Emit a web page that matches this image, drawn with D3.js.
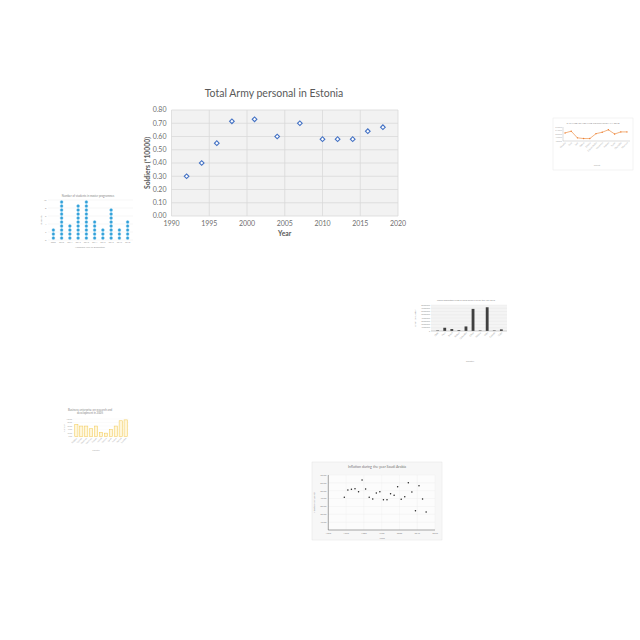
<!DOCTYPE html>
<html>
<head>
<meta charset="utf-8">
<script src="https://cdn.jsdelivr.net/npm/d3@7"></script>
<style>
  html, body { margin: 0; padding: 0; background: #fff; }
  svg { display: block; }
  text { font-family: Lato, "Open Sans", sans-serif; }
</style>
</head>
<body>
<div id="chart"></div>
<script>
// --- Main chart data ---
const armyYears = [1992, 1994, 1996, 1998, 2001, 2004, 2007, 2010, 2012, 2014, 2016, 2018];
const armySoldiers = [0.30, 0.40, 0.55, 0.715, 0.73, 0.60, 0.70, 0.58, 0.58, 0.58, 0.64, 0.67];
const armyXTicks = [1990, 1995, 2000, 2005, 2010, 2015, 2020];
const armyYTicks = [0, 0.1, 0.2, 0.3, 0.4, 0.5, 0.6, 0.7, 0.8];

// --- Thumbnail data ---
const dotLabels = ['2009', '2010', '2011', '2012', '2013', '2014', '2015', '2016', '2017', '2018'];
const dotCounts = [3, 10, 4, 9, 10, 5, 3, 8, 3, 5];
const dotYTicks = [0, 2, 4, 6, 8, 10];

const femaleLabels = ['Kharkiv', 'Kyiv', 'Lviv', 'Odesa', 'Dnipro', 'Zaporizhzhia', 'Vinnytsia', 'Poltava', 'Sumy', 'Chernihiv', 'Kherson'];
const femaleShare = [50.3, 50.8, 48.9, 48.7, 48.7, 50.1, 50.5, 51.2, 50.0, 50.6, 50.6];

const urbanCountries = ['Chile', 'Peru', 'Brazil', 'Bolivia', 'Colombia', 'China', 'Mexico', 'India', 'Canada', 'Cuba'];
const urbanValues = [1.5, 10, 6, 2.5, 14, 68, 1.5, 73, 1.5, 5];
const urbanYTicks = [0, 10, 20, 30, 40, 50, 60, 70, 80];

const rndCountries = ['Belgium', 'Czechia', 'Denmark', 'Germany', 'Estonia', 'Ireland', 'Greece', 'Spain', 'France', 'Finland', 'Sweden'];
const rndValues = [70, 60, 60, 45, 60, 25, 20, 40, 60, 90, 95];
const rndYTicks = [0, 20, 40, 60, 80, 100];

const inflYears = [1969, 1971, 1973, 1975, 1977, 1979, 1981, 1983, 1985, 1987, 1989, 1991, 1993, 1995, 1997, 1999, 2001, 2003, 2005, 2007, 2009, 2011, 2013, 2015];
const inflValues = [41.6, 50.9, 51.8, 52.6, 48.8, 63.6, 52.2, 41.6, 39.5, 47.1, 48.8, 38.6, 38.6, 46.2, 44.1, 55.2, 39.0, 42.4, 60.2, 48.4, 24.6, 56.4, 39.5, 22.9];
const inflXTicks = [1960, 1970, 1980, 1990, 2000, 2010, 2020];
const inflYTicks = [0, 10, 20, 30, 40, 50, 60, 70];

const svg = d3.select('#chart').append('svg')
  .attr('width', 640).attr('height', 640);
svg.append('rect').attr('width', 640).attr('height', 640).attr('fill', '#fff');

// ============================================================
// Main scatter: Total Army personal in Estonia
// ============================================================
(function () {
  const x = d3.scaleLinear().domain([1990, 2020]).range([171.5, 398]);
  const y = d3.scaleLinear().domain([0, 0.8]).range([216, 110]);
  const g = svg.append('g');

  g.append('rect')
    .attr('x', x(1990)).attr('y', y(0.8))
    .attr('width', x(2020) - x(1990)).attr('height', y(0) - y(0.8))
    .attr('fill', '#f2f2f2');

  g.selectAll('line.hgrid').data(armyYTicks).join('line')
    .attr('x1', x(1990)).attr('x2', x(2020))
    .attr('y1', d => y(d)).attr('y2', d => y(d))
    .attr('stroke', '#d9d9d9').attr('stroke-width', 0.8);
  g.selectAll('line.vgrid').data(armyXTicks).join('line')
    .attr('y1', y(0)).attr('y2', y(0.8))
    .attr('x1', d => x(d)).attr('x2', d => x(d))
    .attr('stroke', '#d9d9d9').attr('stroke-width', 0.8);

  g.selectAll('text.yt').data(armyYTicks).join('text')
    .attr('x', x(1990) - 5).attr('y', d => y(d) + 2.4)
    .attr('text-anchor', 'end').attr('font-size', 7).attr('fill', '#6f6f6f')
    .text(d3.format('.2f'));
  g.selectAll('text.xt').data(armyXTicks).join('text')
    .attr('x', d => x(d)).attr('y', y(0) + 10)
    .attr('text-anchor', 'middle').attr('font-size', 7).attr('fill', '#6f6f6f')
    .text(d => d);

  g.append('text')
    .attr('x', 274).attr('y', 97)
    .attr('text-anchor', 'middle').attr('font-size', 10.5).attr('fill', '#595959')
    .text('Total Army personal in Estonia');
  g.append('text')
    .attr('transform', `translate(150,${(y(0) + y(0.8)) / 2}) rotate(-90)`)
    .attr('text-anchor', 'middle').attr('font-size', 6.8).attr('font-weight', 'bold')
    .attr('fill', '#595959')
    .text('Soldiers (*10000)');
  g.append('text')
    .attr('x', (x(1990) + x(2020)) / 2).attr('y', 236)
    .attr('text-anchor', 'middle').attr('font-size', 6.8).attr('font-weight', 'bold')
    .attr('fill', '#595959')
    .text('Year');

  const diamond = d3.symbol(d3.symbolSquare, 11);
  g.selectAll('path.pt').data(armyYears).join('path')
    .attr('d', diamond)
    .attr('transform', (d, i) => `translate(${x(d)},${y(armySoldiers[i])}) rotate(45)`)
    .attr('fill', '#fff').attr('stroke', '#4472c4').attr('stroke-width', 1.1);
})();

// ============================================================
// Thumbnail: stacked dot columns (blue)
// ============================================================
(function () {
  const x = d3.scaleBand().domain(dotLabels).range([48, 133]).padding(0.3);
  const y = d3.scaleLinear().domain([0, 10]).range([240, 200]);
  const g = svg.append('g');

  g.selectAll('line.grid').data(dotYTicks).join('line')
    .attr('x1', 48).attr('x2', 133)
    .attr('y1', d => y(d)).attr('y2', d => y(d))
    .attr('stroke', '#ececec').attr('stroke-width', 0.4);
  g.selectAll('text.yt').data(dotYTicks).join('text')
    .attr('x', 46.5).attr('y', d => y(d) + 0.8)
    .attr('text-anchor', 'end').attr('font-size', 2.4).attr('fill', '#999')
    .text(d => d);
  g.selectAll('text.xt').data(dotLabels).join('text')
    .attr('x', d => x(d) + x.bandwidth() / 2).attr('y', 243)
    .attr('text-anchor', 'middle').attr('font-size', 2.2).attr('fill', '#999')
    .text(d => d);

  const dots = [];
  dotLabels.forEach((lab, i) => {
    for (let k = 1; k <= dotCounts[i]; k++) dots.push({ lab, k });
  });
  g.selectAll('circle').data(dots).join('circle')
    .attr('cx', d => x(d.lab) + x.bandwidth() / 2)
    .attr('cy', d => y(d.k - 0.5))
    .attr('r', 1.5)
    .attr('fill', '#2f9fd8').attr('stroke', '#7cc7ee').attr('stroke-width', 0.35);

  g.append('text').attr('x', 88).attr('y', 197)
    .attr('text-anchor', 'middle').attr('font-size', 2.8).attr('fill', '#888')
    .text('Number of students in master programmes');
  g.append('text').attr('x', 90).attr('y', 247.5)
    .attr('text-anchor', 'middle').attr('font-size', 2.4).attr('fill', '#999')
    .text('Academic year of graduation');
  g.append('text').attr('transform', 'translate(41.5,220) rotate(-90)')
    .attr('text-anchor', 'middle').attr('font-size', 2.4).attr('fill', '#999')
    .text('Students');
})();

// ============================================================
// Thumbnail: orange line
// ============================================================
(function () {
  const x = d3.scalePoint().domain(femaleLabels).range([565, 627]);
  const y = d3.scaleLinear().domain([48, 52]).range([141, 127]);
  const g = svg.append('g');

  g.append('rect').attr('x', 553).attr('y', 118).attr('width', 80).attr('height', 52)
    .attr('fill', 'none').attr('stroke', '#ececec').attr('stroke-width', 0.6);
  g.append('line').attr('x1', 563).attr('x2', 563).attr('y1', 127).attr('y2', 141)
    .attr('stroke', '#bbb').attr('stroke-width', 0.5);
  g.append('line').attr('x1', 563).attr('x2', 630).attr('y1', 141).attr('y2', 141)
    .attr('stroke', '#bbb').attr('stroke-width', 0.5);
  g.selectAll('text.yt').data([48, 49, 50, 51, 52]).join('text')
    .attr('x', 562).attr('y', d => y(d) + 0.7)
    .attr('text-anchor', 'end').attr('font-size', 2).attr('fill', '#aaa')
    .text(d => d.toFixed(2) + '%');
  g.selectAll('text.xt').data(femaleLabels).join('text')
    .attr('transform', d => `translate(${x(d) + 1},${143}) rotate(-45)`)
    .attr('text-anchor', 'end').attr('font-size', 2.2).attr('fill', '#aaa')
    .text(d => d);

  g.append('path').datum(femaleShare)
    .attr('d', d3.line().x((d, i) => x(femaleLabels[i])).y(d => y(d)))
    .attr('fill', 'none').attr('stroke', '#f0a060').attr('stroke-width', 0.8);
  g.selectAll('circle').data(femaleShare).join('circle')
    .attr('cx', (d, i) => x(femaleLabels[i])).attr('cy', d => y(d)).attr('r', 0.7)
    .attr('fill', '#ed7d31');

  g.append('text').attr('x', 593).attr('y', 123.5)
    .attr('text-anchor', 'middle').attr('font-size', 2.6).attr('fill', '#888')
    .text('% SHARE OF FEMALE POPULATION IN 2018');
  g.append('text').attr('x', 597).attr('y', 165.5)
    .attr('text-anchor', 'middle').attr('font-size', 2.2).attr('fill', '#aaa')
    .text('Oblast');
})();

// ============================================================
// Thumbnail: gray bars
// ============================================================
(function () {
  const x = d3.scaleBand().domain(urbanCountries).range([432, 507]).padding(0.6);
  const y = d3.scaleLinear().domain([0, 80]).range([331, 305]);
  const g = svg.append('g');

  g.append('rect').attr('x', 431).attr('y', 305).attr('width', 76).attr('height', 26)
    .attr('fill', '#f4f4f4');
  g.selectAll('line.grid').data(urbanYTicks).join('line')
    .attr('x1', 431).attr('x2', 507)
    .attr('y1', d => y(d)).attr('y2', d => y(d))
    .attr('stroke', '#e0e0e0').attr('stroke-width', 0.3);
  g.selectAll('text.yt').data(urbanYTicks).join('text')
    .attr('x', 430).attr('y', d => y(d) + 0.6)
    .attr('text-anchor', 'end').attr('font-size', 1.9).attr('fill', '#999')
    .text(d => d * 1000000);
  g.selectAll('rect.bar').data(urbanValues).join('rect')
    .attr('x', (d, i) => x(urbanCountries[i])).attr('y', d => y(d))
    .attr('width', x.bandwidth()).attr('height', d => y(0) - y(d))
    .attr('fill', '#404040');
  g.append('line').attr('x1', 431).attr('x2', 507).attr('y1', 331).attr('y2', 331)
    .attr('stroke', '#999').attr('stroke-width', 0.4);
  g.selectAll('text.xt').data(urbanCountries).join('text')
    .attr('transform', d => `translate(${x(d) + x.bandwidth() / 2 + 1},${333}) rotate(-45)`)
    .attr('text-anchor', 'end').attr('font-size', 2.2).attr('fill', '#999')
    .text(d => d);

  g.append('text').attr('x', 466).attr('y', 300.5)
    .attr('text-anchor', 'middle').attr('font-size', 2.2).attr('fill', '#888')
    .text('Urban population living in areas below 5 m for the Year 2010');
  g.append('text').attr('x', 470).attr('y', 361.5)
    .attr('text-anchor', 'middle').attr('font-size', 2.3).attr('fill', '#999')
    .text('Country');
  g.append('text').attr('transform', 'translate(416,318) rotate(-90)')
    .attr('text-anchor', 'middle').attr('font-size', 2.3).attr('fill', '#999')
    .text('Urban population');
})();

// ============================================================
// Thumbnail: yellow bars
// ============================================================
(function () {
  const x = d3.scaleBand().domain(rndCountries).range([73, 129]).padding(0.35);
  const y = d3.scaleLinear().domain([0, 100]).range([436.7, 419]);
  const g = svg.append('g');

  g.selectAll('line.grid').data(rndYTicks).join('line')
    .attr('x1', 73).attr('x2', 129)
    .attr('y1', d => y(d)).attr('y2', d => y(d))
    .attr('stroke', '#f0f0f0').attr('stroke-width', 0.3);
  g.selectAll('text.yt').data(rndYTicks).join('text')
    .attr('x', 72).attr('y', d => y(d) + 0.6)
    .attr('text-anchor', 'end').attr('font-size', 1.8).attr('fill', '#aaa')
    .text(d => d.toFixed(2));
  g.selectAll('rect.bar').data(rndValues).join('rect')
    .attr('x', (d, i) => x(rndCountries[i])).attr('y', d => y(d))
    .attr('width', x.bandwidth()).attr('height', d => y(0) - y(d))
    .attr('fill', '#fff6d9').attr('stroke', '#f2cd5c').attr('stroke-width', 0.55);
  g.selectAll('text.xt').data(rndCountries).join('text')
    .attr('transform', d => `translate(${x(d) + x.bandwidth() / 2 + 1},${438.5}) rotate(-45)`)
    .attr('text-anchor', 'end').attr('font-size', 2).attr('fill', '#aaa')
    .text(d => d);

  g.append('text').attr('x', 90).attr('y', 410.5)
    .attr('text-anchor', 'middle').attr('font-size', 2.8).attr('fill', '#888')
    .text('Business enterprise on research and');
  g.append('text').attr('x', 90).attr('y', 414)
    .attr('text-anchor', 'middle').attr('font-size', 2.8).attr('fill', '#888')
    .text('development in 2005');
  g.append('text').attr('x', 96).attr('y', 450.5)
    .attr('text-anchor', 'middle').attr('font-size', 2.1).attr('fill', '#aaa')
    .text('Country');
  g.append('text').attr('transform', 'translate(64.5,428) rotate(-90)')
    .attr('text-anchor', 'middle').attr('font-size', 1.9).attr('fill', '#aaa')
    .text('% of GDP');
})();

// ============================================================
// Thumbnail: inflation scatter
// ============================================================
(function () {
  const x = d3.scaleLinear().domain([1960, 2020]).range([328.3, 435]);
  const y = d3.scaleLinear().domain([0, 70]).range([530, 475]);
  const g = svg.append('g');

  g.append('rect').attr('x', 312).attr('y', 462).attr('width', 130).attr('height', 78)
    .attr('fill', '#f7f7f7').attr('stroke', '#e4e4e4').attr('stroke-width', 0.5);
  g.append('rect').attr('x', x(1960)).attr('y', y(70)).attr('width', x(2020) - x(1960))
    .attr('height', y(0) - y(70)).attr('fill', '#fcfcfc');
  g.selectAll('line.grid').data(inflYTicks).join('line')
    .attr('x1', x(1960)).attr('x2', x(2020))
    .attr('y1', d => y(d)).attr('y2', d => y(d))
    .attr('stroke', '#e6e6e6').attr('stroke-width', 0.3);
  g.selectAll('line.vgrid').data(inflXTicks).join('line')
    .attr('x1', d => x(d)).attr('x2', d => x(d))
    .attr('y1', y(70)).attr('y2', y(0))
    .attr('stroke', '#ececec').attr('stroke-width', 0.3);
  g.append('line').attr('x1', x(1960)).attr('x2', x(1960)).attr('y1', y(70)).attr('y2', y(0))
    .attr('stroke', '#555').attr('stroke-width', 0.5);
  g.append('line').attr('x1', x(1960)).attr('x2', x(2020)).attr('y1', y(0)).attr('y2', y(0))
    .attr('stroke', '#555').attr('stroke-width', 0.5);
  g.selectAll('text.yt').data(inflYTicks.filter(d => d > 0)).join('text')
    .attr('x', x(1960) - 2).attr('y', d => y(d) + 0.8)
    .attr('text-anchor', 'end').attr('font-size', 2.4).attr('fill', '#888')
    .text(d => d.toFixed(2));
  g.selectAll('text.xt').data(inflXTicks).join('text')
    .attr('x', d => x(d)).attr('y', y(0) + 4)
    .attr('text-anchor', 'middle').attr('font-size', 2.4).attr('fill', '#888')
    .text(d => d);
  g.selectAll('circle').data(inflYears).join('circle')
    .attr('cx', d => x(d)).attr('cy', (d, i) => y(inflValues[i])).attr('r', 0.75)
    .attr('fill', '#222');

  g.append('text').attr('x', 377).attr('y', 468)
    .attr('text-anchor', 'middle').attr('font-size', 3.6).attr('fill', '#777')
    .attr('font-family', '"Liberation Serif", serif')
    .text('Inflation during the year Saudi Arabia');
  g.append('text').attr('x', 382).attr('y', 538.5)
    .attr('text-anchor', 'middle').attr('font-size', 2.4).attr('fill', '#888')
    .text('Years');
  g.append('text').attr('transform', `translate(315,${(y(0) + y(70)) / 2}) rotate(-90)`)
    .attr('text-anchor', 'middle').attr('font-size', 2.4).attr('fill', '#888')
    .text('Inflation (annual %)');
})();
</script>
</body>
</html>
